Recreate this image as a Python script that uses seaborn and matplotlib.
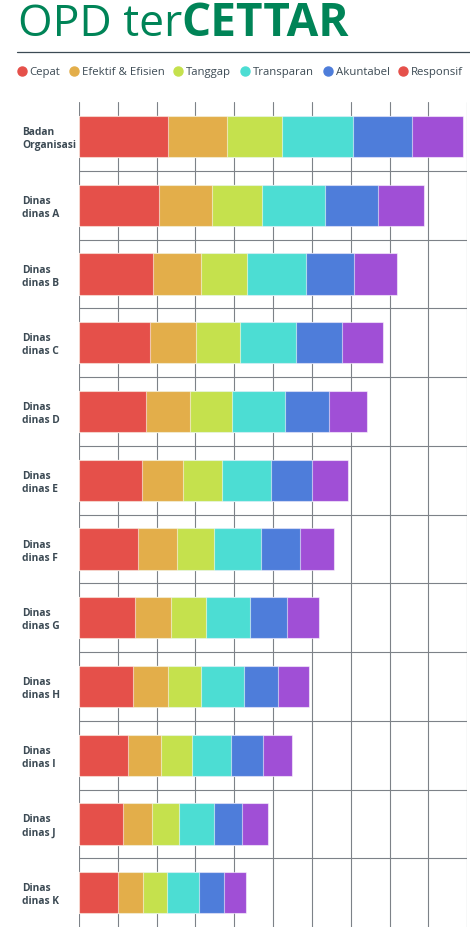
import numpy as np
import pandas as pd
import matplotlib.pyplot as plt
import seaborn as sns
from matplotlib.lines import Line2D

# data (one grid step = 10)
opd = ["Badan\nOrganisasi", "Dinas\ndinas A", "Dinas\ndinas B", "Dinas\ndinas C",
       "Dinas\ndinas D", "Dinas\ndinas E", "Dinas\ndinas F", "Dinas\ndinas G",
       "Dinas\ndinas H", "Dinas\ndinas I", "Dinas\ndinas J", "Dinas\ndinas K"]
series = ["Cepat", "Efektif & Efisien", "Tanggap", "Transparan", "Akuntabel", "Responsif"]
cepat = [22.9, 20.6, 19.1, 18.2, 17.3, 16.2, 15.2, 14.4, 13.8, 12.7, 11.3, 10.0]
efektif = [15.2, 13.7, 12.3, 11.9, 11.3, 10.6, 10.0, 9.4, 9.0, 8.5, 7.5, 6.6]
tanggap = [14.2, 12.8, 11.9, 11.3, 10.7, 10.0, 9.5, 8.9, 8.6, 7.8, 7.0, 6.1]
transparan = [18.3, 16.3, 15.1, 14.5, 13.8, 12.7, 12.2, 11.4, 11.0, 10.1, 8.9, 8.1]
akuntabel = [15.2, 13.6, 12.5, 11.9, 11.3, 10.6, 10.0, 9.5, 8.9, 8.4, 7.4, 6.6]
responsif = [13.2, 11.9, 10.9, 10.4, 9.8, 9.2, 8.7, 8.2, 8.0, 7.3, 6.5, 5.7]

bar_colors = ["#e5504a", "#e3ae4a", "#c5e14d", "#4cddd3", "#4e7dda", "#a04fd6"]
legend_colors = ["#e5504a", "#e3ae4a", "#c5e14d", "#4cddd3", "#4e7dda", "#e5504a"]

green = "#008457"
dark = "#3c4a54"

df = pd.DataFrame({"opd": opd, "Cepat": cepat, "Efektif & Efisien": efektif,
                   "Tanggap": tanggap, "Transparan": transparan,
                   "Akuntabel": akuntabel, "Responsif": responsif})
cum = df[series].cumsum(axis=1)

sns.set_style("white")
plt.rcParams["font.family"] = ["Open Sans", "DejaVu Sans"]

fig = plt.figure(figsize=(4.7, 9.27), dpi=100)
ax = fig.add_axes([79 / 470, 0, 388.3 / 470, (927 - 102.3) / 927])

# stacked bars: draw cumulative totals from the longest down
for s, c in zip(reversed(series), reversed(bar_colors)):
    sns.barplot(x=cum[s], y=df["opd"], color=c, saturation=1, width=0.6,
                errorbar=None, edgecolor=(1, 1, 1, 0.55), linewidth=0.8, ax=ax)

ax.set_xlim(0, 100)
ax.set_ylim(len(opd) - 0.5, -0.5)
ax.set_xticks(np.arange(0, 101, 10))
ax.set_xticklabels([])
ax.grid(axis="x", color="#7d8288", lw=0.8)
ax.set_axisbelow(True)
for i in range(len(opd) - 1):
    ax.axhline(i + 0.5, color="#7d8288", lw=0.8, zorder=0)
for sp in ax.spines.values():
    sp.set_visible(False)
ax.set_xlabel("")
ax.set_ylabel("")
ax.tick_params(axis="x", length=0)
ax.tick_params(axis="y", length=0, pad=41)
for lbl in ax.get_yticklabels():
    lbl.set_ha("left")
    lbl.set_fontweight("bold")
    lbl.set_fontsize(7.4)
    lbl.set_color(dark)
    lbl.set_linespacing(1.25)

# title
t1 = fig.text(18 / 470, 1 - 35.5 / 927, "OPD ter", fontsize=32, color=green,
              va="baseline", ha="left")
fig.canvas.draw()
bb = t1.get_window_extent()
fig.text((bb.x1 - 1) / fig.bbox.width, 1 - 35.5 / 927, "CETTAR", fontsize=33,
         color=green, fontweight="bold", va="baseline", ha="left")
fig.add_artist(Line2D([17 / 470, 1], [1 - 52 / 927] * 2, color=dark, lw=0.9))

# legend
handles = [Line2D([], [], marker="o", ls="", color=c, markersize=6.5)
           for c in legend_colors]
fig.legend(handles, series, loc="center left", bbox_to_anchor=(17 / 470, 1 - 72.7 / 927),
           ncol=6, frameon=False, handlelength=0.8, handletextpad=0.3,
           columnspacing=0.8, fontsize=8.2, borderpad=0, borderaxespad=0,
           labelcolor=dark)

fig.savefig("out.png", dpi=100)
